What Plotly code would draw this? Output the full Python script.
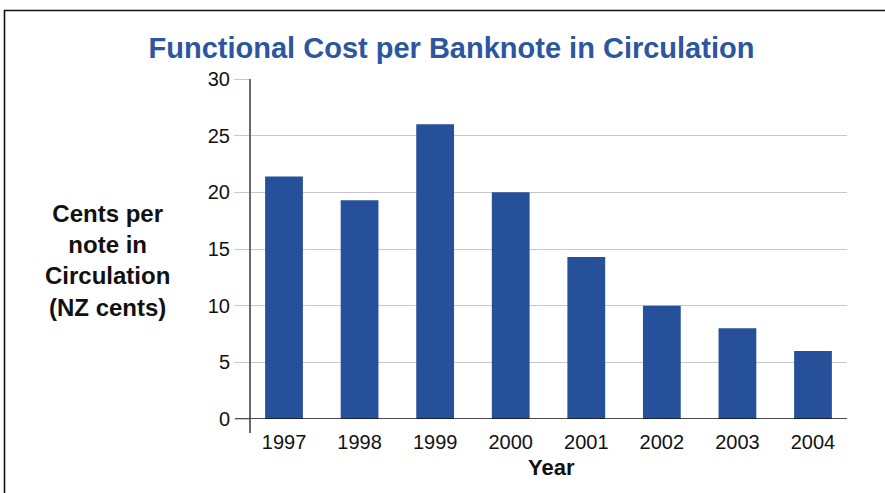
import plotly.graph_objects as go

years = ["1997", "1998", "1999", "2000", "2001", "2002", "2003", "2004"]
cents = [21.4, 19.3, 26.0, 20.0, 14.3, 10.0, 8.0, 6.0]
y_ticks = [0, 5, 10, 15, 20, 25, 30]

FONT = "Liberation Sans, Arial, Helvetica, sans-serif"
BAR = "#26519A"
TITLE = "#2B56A0"

fig = go.Figure(go.Bar(x=years, y=cents, width=0.5, marker=dict(color=BAR, line=dict(width=0))))

fig.update_layout(
    width=885, height=493,
    margin=dict(l=250, r=38, t=79, b=74),
    paper_bgcolor="white", plot_bgcolor="white",
    showlegend=False,
    title=dict(text="<b>Functional Cost per Banknote in Circulation</b>",
               font=dict(family=FONT, size=29, color=TITLE),
               xref="container", x=451.5 / 885, xanchor="center",
               yref="container", y=1 - 48 / 493, yanchor="middle"),
    font=dict(family=FONT, color="#111111"),
)

fig.update_xaxes(
    type="category", range=[-0.45, 7.45],
    showgrid=False, showline=False, zeroline=False,
    ticks="outside", ticklen=5, tickcolor="rgba(0,0,0,0)",
    tickfont=dict(size=20, family=FONT, color="#111111"),
)
fig.update_yaxes(
    range=[0, 30], tickvals=y_ticks,
    showgrid=True, gridcolor="#C8C8C8", gridwidth=1.3,
    showline=False, zeroline=False,
    ticks="outside", ticklen=15, tickcolor="#C8C8C8", tickwidth=1.3,
    tickfont=dict(size=20, family=FONT, color="#111111"),
)

shapes = [
    # zero line (with left extension)
    dict(type="line", xref="paper", yref="y", x0=-15 / 597, x1=1, y0=0, y1=0,
         line=dict(color="#111111", width=1.6)),
    # y axis line, extending slightly below zero
    dict(type="line", xref="paper", yref="paper", x0=0, x1=0, y0=-14 / 340, y1=1,
         line=dict(color="#444444", width=1.6)),
    # outer frame
    dict(type="rect", xref="paper", yref="paper",
         x0=(4.5 - 250) / 597, x1=(890 - 250) / 597,
         y0=(419 - 500) / 340, y1=(419 - 10.5) / 340,
         line=dict(color="#111111", width=1.6), fillcolor="rgba(0,0,0,0)", layer="below"),
]
fig.update_layout(shapes=shapes)

fig.add_annotation(text="<b>Cents per<br>note in<br>Circulation<br>(NZ cents)</b>",
                   xref="paper", yref="paper", x=(107 - 250) / 597, y=(419 - 260.5) / 340,
                   xanchor="center", yanchor="middle", align="center", showarrow=False,
                   font=dict(family=FONT, size=24, color="#111111"))
fig.add_annotation(text="<b>Year</b>",
                   xref="paper", yref="paper", x=(551.5 - 250) / 597, y=(419 - 467) / 340,
                   xanchor="center", yanchor="middle", showarrow=False,
                   font=dict(family=FONT, size=22, color="#111111"))

fig.write_html("out.html")
